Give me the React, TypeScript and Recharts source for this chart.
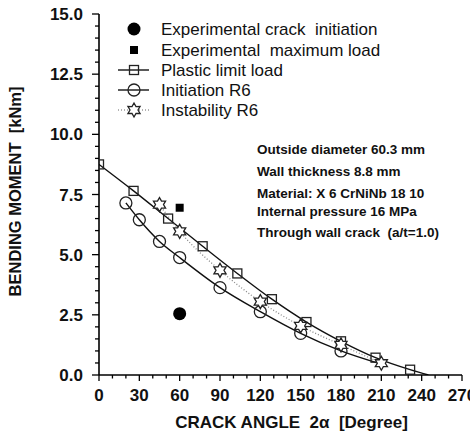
import React from 'react';
import { ComposedChart, Line, XAxis, YAxis, Legend, Customized } from 'recharts';

const FONT = '"Liberation Sans", Arial, Helvetica, sans-serif';

// Crack angle 2α [degree] and bending moment [kNm]
const plasticAngle = [0, 25.7, 51.4, 77.1, 102.9, 128.6, 154.3, 180, 205.7, 231.4, 245];
const plasticMoment = [8.75, 7.65, 6.5, 5.35, 4.22, 3.15, 2.2, 1.4, 0.72, 0.22, 0];

const initiationAngle = [20, 30, 45, 60, 90, 120, 150, 180, 210];
const initiationMoment = [7.15, 6.45, 5.55, 4.88, 3.63, 2.63, 1.73, 1.0, 0.45];

const instabilityAngle = [45, 60, 90, 120, 150, 180, 210];
const instabilityMoment = [7.08, 5.97, 4.35, 3.05, 2.04, 1.25, 0.49];

const expCrackAngle = [60];
const expCrackMoment = [2.55];

const expMaxAngle = [60];
const expMaxMoment = [6.95];

const xTicks = Array.from({ length: 28 }, (_, i) => i * 10);
const yTicks = Array.from({ length: 31 }, (_, i) => i * 0.5);

const seriesNames = [
  'Experimental crack  initiation',
  'Experimental  maximum load',
  'Plastic limit load',
  'Initiation R6',
  'Instability R6',
];

const notes = [
  'Outside diameter 60.3 mm',
  'Wall thickness 8.8 mm',
  'Material: X 6 CrNiNb 18 10',
  'Internal pressure 16 MPa',
  'Through wall crack  (a/t=1.0)',
];

const toPoints = (xs: number[], ys: number[]) => xs.map((x, i) => ({ angle: x, moment: ys[i] }));

const plasticData = toPoints(plasticAngle, plasticMoment);
const initiationData = toPoints(initiationAngle, initiationMoment);
const instabilityData = toPoints(instabilityAngle, instabilityMoment);
const expCrackData = toPoints(expCrackAngle, expCrackMoment);
const expMaxData = toPoints(expMaxAngle, expMaxMoment);

const starPoints = (cx: number, cy: number, ro: number, ri: number) => {
  const pts: string[] = [];
  for (let i = 0; i < 12; i++) {
    const r = i % 2 === 0 ? ro : ri;
    const a = (Math.PI / 6) * i - Math.PI / 2;
    pts.push(`${(cx + r * Math.cos(a)).toFixed(2)},${(cy + r * Math.sin(a)).toFixed(2)}`);
  }
  return pts.join(' ');
};

const SYM = '#222';

const squareShape = (cx: number, cy: number, key?: any) => (
  <rect key={key} x={cx - 4.5} y={cy - 4.5} width={9} height={9} fill="none" stroke={SYM} strokeWidth={1.3} />
);
const circleShape = (cx: number, cy: number, key?: any) => (
  <circle key={key} cx={cx} cy={cy} r={6} fill="none" stroke={SYM} strokeWidth={1.3} />
);
const starShape = (cx: number, cy: number, key?: any) => (
  <polygon key={key} points={starPoints(cx, cy, 7, 4)} fill="#fff" stroke={SYM} strokeWidth={1.3} />
);
const filledCircle = (cx: number, cy: number, key?: any) => (
  <circle key={key} cx={cx} cy={cy} r={6.5} fill="#000" />
);
const filledSquare = (cx: number, cy: number, key?: any) => (
  <rect key={key} x={cx - 4} y={cy - 4} width={8} height={8} fill="#000" />
);

const makeDot = (shape: (cx: number, cy: number, key?: any) => any, skipIndex?: number) => (props: any) => {
  const { cx, cy, index } = props;
  if (skipIndex !== undefined && index === skipIndex) return <g key={`d-${index}`} />;
  if (cx == null || cy == null) return <g key={`d-${index}`} />;
  return shape(cx, cy, `d-${index}`);
};

const XTick = (props: any) => {
  const { x, y, payload } = props;
  const v = payload.value;
  const major = v % 30 === 0;
  return (
    <g>
      <line x1={x} x2={x} y1={y} y2={y + (major ? 6 : 3.5)} stroke="#000" strokeWidth={1.3} />
      {major && (
        <text x={x} y={y + 26} textAnchor="middle" fontSize={17} fontWeight="bold" fontFamily={FONT} fill="#111">
          {v}
        </text>
      )}
    </g>
  );
};

const YTick = (props: any) => {
  const { x, y, payload } = props;
  const v = payload.value;
  const major = Math.abs(v % 2.5) < 1e-9;
  return (
    <g>
      <line x1={x - (major ? 7 : 4)} x2={x} y1={y} y2={y} stroke="#000" strokeWidth={1.3} />
      {major && (
        <text x={x - 16} y={y + 6} textAnchor="end" fontSize={17} fontWeight="bold" fontFamily={FONT} fill="#111">
          {v.toFixed(1)}
        </text>
      )}
    </g>
  );
};

const LegendContent = () => {
  const rows = [29, 50, 70, 90, 110].map((y) => y - 16);
  const sx = 24;
  return (
    <svg width={300} height={112} style={{ overflow: 'visible' }}>
      {filledCircle(sx, rows[0])}
      {filledSquare(sx, rows[1])}
      <line x1={8} x2={39} y1={rows[2]} y2={rows[2]} stroke="#000" strokeWidth={1.3} />
      {squareShape(sx, rows[2])}
      <line x1={8} x2={39} y1={rows[3]} y2={rows[3]} stroke="#000" strokeWidth={1.3} />
      {circleShape(sx, rows[3])}
      <line x1={8} x2={39} y1={rows[4]} y2={rows[4]} stroke="#999" strokeWidth={1.3} strokeDasharray="1 2" />
      {starShape(sx, rows[4])}
      {seriesNames.map((n, i) => (
        <text key={n} x={51} y={rows[i] + 6} fontSize={17} fontFamily={FONT} fill="#111" style={{ whiteSpace: 'pre' }}>
          {n}
        </text>
      ))}
    </svg>
  );
};

const Annotations = () => (
  <g>
    {notes.map((n, i) => (
      <text
        key={n}
        x={257}
        y={[154, 176, 198, 216, 237][i]}
        fontSize={13.5}
        fontWeight="bold"
        fontFamily={FONT}
        fill="#111"
        style={{ whiteSpace: 'pre' }}
      >
        {n}
      </text>
    ))}
    <text x={291.5} y={428} textAnchor="middle" fontSize={17} fontWeight="bold" fontFamily={FONT} fill="#111" style={{ whiteSpace: 'pre' }}>
      {'CRACK ANGLE  2α  [Degree]'}
    </text>
    <text
      x={21}
      y={191.5}
      transform="rotate(-90 21 191.5)"
      textAnchor="middle"
      fontSize={16.5}
      fontWeight="bold"
      fontFamily={FONT}
      fill="#111"
      style={{ whiteSpace: 'pre' }}
    >
      {'BENDING MOMENT  [kNm]'}
    </text>
  </g>
);

export default function App() {
  return (
    <div style={{ position: 'absolute', left: 0, top: 0, width: 470, height: 432, background: '#fff' }}>
      <ComposedChart width={470} height={432} margin={{ top: 14, right: 8, bottom: 17, left: 0 }}>
        <XAxis
          xAxisId="main"
          dataKey="angle"
          type="number"
          domain={[0, 270]}
          ticks={xTicks}
          interval={0}
          allowDataOverflow
          height={40}
          tickSize={0}
          tickMargin={0}
          tickLine={false}
          axisLine={{ stroke: '#000', strokeWidth: 1.6 }}
          tick={<XTick />}
        />
        <XAxis
          xAxisId="top"
          orientation="top"
          type="number"
          domain={[0, 270]}
          height={0}
          tick={false}
          tickLine={false}
          axisLine={{ stroke: '#000', strokeWidth: 1.6 }}
        />
        <YAxis
          yAxisId="main"
          type="number"
          domain={[0, 15]}
          ticks={yTicks}
          interval={0}
          allowDataOverflow
          width={99}
          tickSize={0}
          tickMargin={0}
          tickLine={false}
          axisLine={{ stroke: '#000', strokeWidth: 1.6 }}
          tick={<YTick />}
        />
        <YAxis
          yAxisId="right"
          orientation="right"
          type="number"
          domain={[0, 15]}
          width={0}
          tick={false}
          tickLine={false}
          axisLine={{ stroke: '#000', strokeWidth: 1.6 }}
        />
        <Line
          xAxisId="main"
          yAxisId="main"
          data={plasticData}
          dataKey="moment"
          name={seriesNames[2]}
          type="monotone"
          stroke="#111"
          strokeWidth={1.4}
          dot={makeDot(squareShape, plasticData.length - 1)}
          isAnimationActive={false}
        />
        <Line
          xAxisId="main"
          yAxisId="main"
          data={initiationData}
          dataKey="moment"
          name={seriesNames[3]}
          type="monotone"
          stroke="#111"
          strokeWidth={1.4}
          dot={makeDot(circleShape, initiationData.length - 1)}
          isAnimationActive={false}
        />
        <Line
          xAxisId="main"
          yAxisId="main"
          data={instabilityData}
          dataKey="moment"
          name={seriesNames[4]}
          type="monotone"
          stroke="#888"
          strokeWidth={1.3}
          strokeDasharray="1 2"
          dot={makeDot(starShape)}
          isAnimationActive={false}
        />
        <Line
          xAxisId="main"
          yAxisId="main"
          data={expCrackData}
          dataKey="moment"
          name={seriesNames[0]}
          stroke="none"
          dot={makeDot(filledCircle)}
          isAnimationActive={false}
        />
        <Line
          xAxisId="main"
          yAxisId="main"
          data={expMaxData}
          dataKey="moment"
          name={seriesNames[1]}
          stroke="none"
          dot={makeDot(filledSquare)}
          isAnimationActive={false}
        />
        <Legend
          layout="vertical"
          align="center"
          verticalAlign="middle"
          content={<LegendContent />}
          wrapperStyle={{ position: 'absolute', left: 110, top: 16, width: 300, height: 112 }}
        />
        <Customized component={<Annotations />} />
      </ComposedChart>
    </div>
  );
}
